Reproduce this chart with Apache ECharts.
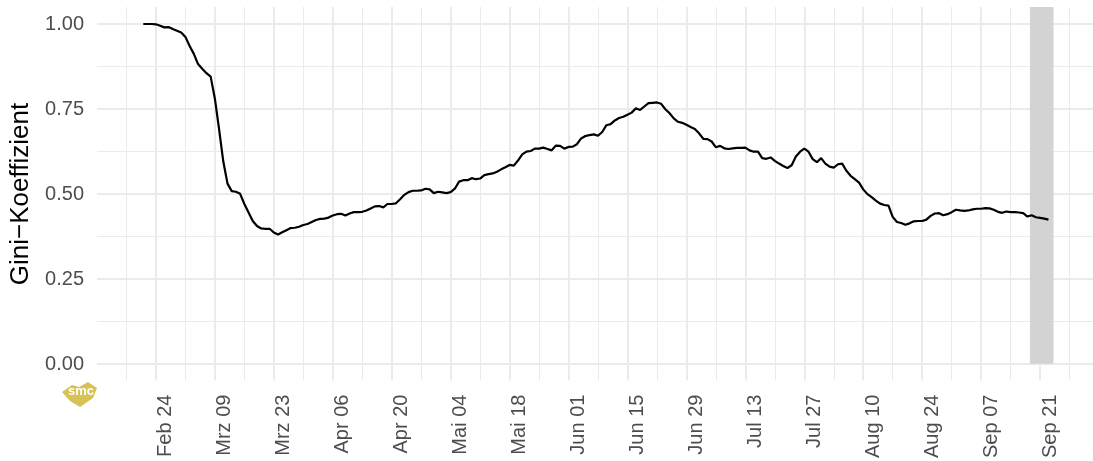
<!DOCTYPE html>
<html><head><meta charset="utf-8">
<script src="https://cdn.jsdelivr.net/npm/echarts@6/dist/echarts.min.js"></script>
<style>html,body{margin:0;padding:0;background:#fff;overflow:hidden}#c{width:1099px;height:461px}</style>
</head><body><div id="c"></div>
<script>
// Day 0 of the x axis = 2020-02-10
const firstDataDay = 11; // 2020-02-21
const giniValues = [
  1.000,1.000,1.000,0.999,0.995,0.990,0.991,0.985,0.980,0.975,
  0.962,0.935,0.912,0.882,0.868,0.855,0.845,0.780,0.690,0.595,
  0.530,0.508,0.506,0.500,0.470,0.445,0.420,0.405,0.398,0.397,
  0.397,0.386,0.380,0.387,0.393,0.399,
  0.400,0.403,0.408,0.411,0.417,0.423,0.426,0.427,0.430,0.436,
  0.440,0.441,0.436,0.442,0.446,0.446,0.447,0.451,0.457,0.463,
  0.464,0.460,0.470,0.470,0.472,0.484,0.497,0.505,0.509,0.509,
  0.510,0.515,0.513,0.502,0.506,0.504,0.502,
  0.505,0.515,0.536,0.540,0.540,0.546,0.543,0.545,0.555,0.558,
  0.560,0.565,0.572,0.578,0.585,0.583,0.598,0.616,0.624,0.626,
  0.633,0.633,0.636,0.632,0.628,0.642,0.641,0.633,0.638,0.639,
  0.646,0.663,0.670,0.673,0.675,0.671,0.682,0.702,0.705,
  0.716,0.723,0.727,0.733,0.739,0.752,0.747,0.757,0.767,0.768,
  0.769,0.765,0.749,0.737,0.722,0.712,0.709,0.703,0.697,0.691,
  0.678,0.662,0.661,0.654,0.637,0.641,0.634,0.632,0.634,0.635,
  0.635,0.636,0.628,0.624,0.624,0.605,0.603,
  0.607,0.597,0.589,0.582,0.576,0.584,0.610,0.624,0.633,0.624,
  0.602,0.593,0.605,0.589,0.580,0.577,0.587,0.589,0.568,0.553,
  0.543,0.533,0.513,0.499,0.490,0.480,0.471,0.467,0.465,0.432,
  0.417,0.414,0.409,0.413,0.419,0.420,0.420,0.424,0.435,0.442,
  0.443,0.437,0.440,0.446,0.453,0.451,0.450,0.451,0.454,0.456,
  0.456,0.458,0.457,0.453,0.447,0.444,0.448,0.446,0.446,0.445,
  0.443,0.433,0.437,0.431,0.429,0.427,0.424
];
const xTickLabels = ['Feb 24','Mrz 09','Mrz 23','Apr 06','Apr 20','Mai 04','Mai 18','Jun 01',
  'Jun 15','Jun 29','Jul 13','Jul 27','Aug 10','Aug 24','Sep 07','Sep 21'];
const yTickLabels = ['0.00','0.25','0.50','0.75','1.00'];
const highlightRange = [221.6, 227.2]; // days (about Sep 18 - Sep 24)

const lineData = giniValues.map((v, i) => [firstDataDay + i, v]);
const FONT = "'Liberation Sans', Arial, Helvetica, sans-serif";
const GRID_COLOR = '#ebebeb';

const chart = echarts.init(document.getElementById('c'), null, {renderer: 'canvas'});
chart.setOption({
  animation: false,
  backgroundColor: '#ffffff',
  textStyle: {fontFamily: FONT},
  grid: [
    {left: 97, right: 0, top: 7, bottom: 80},
    {left: 97, right: 0, top: 24, bottom: 97}
  ],
  xAxis: [
    {
      type: 'value', gridIndex: 0, min: 0, max: 238, interval: 14,
      axisLine: {show: false}, axisTick: {show: false},
      axisLabel: {
        rotate: 90, fontSize: 20, color: '#4d4d4d', margin: 14, verticalAlign: 'top',
        fontFamily: FONT,
        formatter: v => {
          const k = Math.round(v / 14) - 1;
          return (Math.abs(v - (k + 1) * 14) < 1e-6 && k >= 0 && k < xTickLabels.length) ? xTickLabels[k] : '';
        }
      },
      splitLine: {show: true, showMinLine: false, showMaxLine: false, lineStyle: {color: GRID_COLOR, width: 2}},
      minorTick: {show: false, splitNumber: 2},
      minorSplitLine: {show: true, lineStyle: {color: GRID_COLOR, width: 1}}
    },
    {
      type: 'value', gridIndex: 1, min: 0, max: 238, show: false
    }
  ],
  yAxis: [
    {type: 'value', gridIndex: 0, min: -0.05, max: 1.05, show: false},
    {
      type: 'value', gridIndex: 1, min: 0, max: 1, interval: 0.25,
      axisLine: {show: false}, axisTick: {show: false},
      axisLabel: {
        fontSize: 20, color: '#4d4d4d', margin: 13, fontFamily: FONT,
        formatter: v => yTickLabels[Math.round(v / 0.25)]
      },
      splitLine: {show: true, lineStyle: {color: GRID_COLOR, width: 2}},
      minorTick: {show: false, splitNumber: 2},
      minorSplitLine: {show: true, lineStyle: {color: GRID_COLOR, width: 1}},
      name: 'Gini\u2212Koeffizient', nameLocation: 'middle', nameGap: 57,
      nameTextStyle: {fontSize: 26, color: '#000000', fontFamily: FONT}
    }
  ],
  series: [
    {
      type: 'line', xAxisIndex: 0, yAxisIndex: 0, data: [], silent: true,
      markArea: {
        silent: true,
        itemStyle: {color: '#d3d3d3'},
        data: [[{xAxis: highlightRange[0], yAxis: 0}, {xAxis: highlightRange[1], yAxis: 1.05}]]
      }
    },
    {
      type: 'line', xAxisIndex: 0, yAxisIndex: 0, data: lineData, z: 5,
      showSymbol: false, symbol: 'none', smooth: false,
      lineStyle: {color: '#000000', width: 2.2}
    }
  ],
  graphic: [
    {
      type: 'polygon', left: 62, top: 382,
      shape: {points: [[0,10],[10,3],[17,5],[26,0],[35,6],[31,16],[18,25],[8,19]]},
      style: {fill: '#d6c257'}
    },
    {
      type: 'text', left: 68, top: 385,
      style: {text: 'smc', fill: '#ffffff', font: "bold 13px 'Liberation Sans', Arial, sans-serif"}
    }
  ]
});
</script>
</body></html>
